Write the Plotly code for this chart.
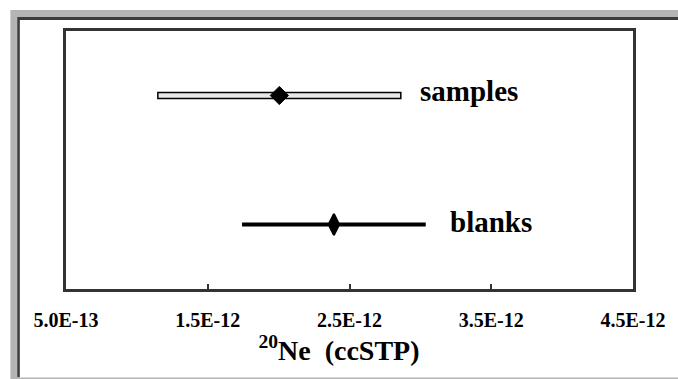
import plotly.graph_objects as go

# Data
categories = ["samples", "blanks"]
y_pos = [1.5, 0.5]
ne20_mean = [2.005e-12, 2.39e-12]
ne20_err = [0.857e-12, 0.648e-12]
tick_vals = [5.0e-13, 1.5e-12, 2.5e-12, 3.5e-12, 4.5e-12]
tick_text = ["5.0E-13", "1.5E-12", "2.5E-12", "3.5E-12", "4.5E-12"]

W, H = 678, 379
L, R, T, B = 66, 41, 31, 90
pw, ph = W - L - R, H - T - B


def px2x(px):
    return (px - L) / pw


def py2y(py):
    return (H - B - py) / ph


FONT = "Liberation Serif, Times New Roman, serif"

fig = go.Figure()

# blanks: solid thick bar
fig.add_trace(go.Scatter(
    x=[ne20_mean[1]], y=[y_pos[1]], mode="markers",
    marker=dict(symbol="diamond-tall", size=15, color="black",
                line=dict(color="black", width=2)),
    error_x=dict(type="data", array=[ne20_err[1]], color="black",
                 thickness=4, width=0),
    showlegend=False, hoverinfo="skip",
))

# samples: diamond marker (hollow bar drawn as shape)
fig.add_trace(go.Scatter(
    x=[ne20_mean[0]], y=[y_pos[0]], mode="markers",
    marker=dict(symbol="diamond", size=14, color="black",
                line=dict(color="black", width=1)),
    showlegend=False, hoverinfo="skip",
))

shapes = [
    # frame: gray outer band
    dict(type="rect", xref="paper", yref="paper", layer="below",
         x0=px2x(10), x1=px2x(700), y0=py2y(400), y1=py2y(10),
         fillcolor="#b4b4b4", line=dict(width=0)),
    # dark inner line
    dict(type="rect", xref="paper", yref="paper", layer="below",
         x0=px2x(17), x1=px2x(700), y0=py2y(377), y1=py2y(17),
         fillcolor="#3c3c3c", line=dict(width=0)),
    # white page
    dict(type="rect", xref="paper", yref="paper", layer="below",
         x0=px2x(19.5), x1=px2x(700), y0=py2y(377.5), y1=py2y(20),
         fillcolor="white", line=dict(width=0)),
    # samples hollow error bar
    dict(type="rect", xref="x", yref="y", layer="below",
         x0=ne20_mean[0] - ne20_err[0], x1=ne20_mean[0] + ne20_err[0],
         ysizemode="pixel", yanchor=y_pos[0], y0=-3, y1=3,
         fillcolor="#e6e6e6", line=dict(color="black", width=1.5)),
]

annotations = [
    dict(x=ne20_mean[0] + ne20_err[0], y=y_pos[0], xref="x", yref="y",
         text="<b>" + categories[0] + "</b>", showarrow=False,
         xanchor="left", yanchor="middle", xshift=17, yshift=5,
         font=dict(family=FONT, size=29, color="black")),
    dict(x=ne20_mean[1] + ne20_err[1], y=y_pos[1], xref="x", yref="y",
         text="<b>" + categories[1] + "</b>", showarrow=False,
         xanchor="left", yanchor="middle", xshift=22, yshift=3,
         font=dict(family=FONT, size=29, color="black")),
]

fig.update_layout(
    width=W, height=H,
    margin=dict(l=L, r=R, t=T, b=B, pad=0),
    paper_bgcolor="white", plot_bgcolor="white",
    shapes=shapes, annotations=annotations,
    showlegend=False,
    xaxis=dict(
        range=[tick_vals[0], tick_vals[-1]],
        tickmode="array", tickvals=tick_vals, ticktext=tick_text,
        ticks="inside", ticklen=5, tickwidth=1.5, tickcolor="#333",
        ticklabelstandoff=11,
        tickfont=dict(family=FONT, size=20, color="black", weight="bold"),
        showline=True, linecolor="#333", linewidth=2.5, mirror=True,
        showgrid=False, zeroline=False,
        title=dict(text="<b><sup>20</sup>Ne  (ccSTP)</b>&nbsp;&nbsp;&nbsp;",
                   font=dict(family=FONT, size=28, color="black"),
                   standoff=8),
    ),
    yaxis=dict(
        range=[0, 2], showticklabels=False, ticks="",
        showline=True, linecolor="#333", linewidth=2.5, mirror=True,
        showgrid=False, zeroline=False,
    ),
)

fig.write_html("out.html")
